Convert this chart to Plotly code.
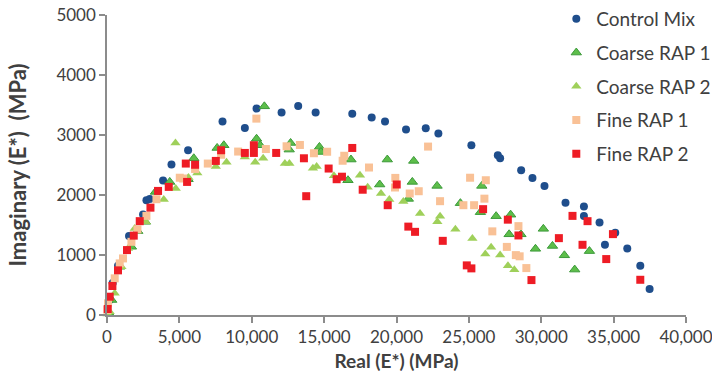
import plotly.graph_objects as go

# Complex modulus (Cole-Cole) data: real vs. imaginary part, MPa
control_real = [187, 394, 761, 1522, 2490, 2725, 2953, 3873, 4454, 5602, 7981, 9523,
                10332, 12061, 13209, 14413, 16944, 18286, 19206, 20658, 22021, 22892,
                25174, 27000, 27159, 28612, 29393, 30223, 31675, 32948, 32948, 34027,
                35113, 34400, 35943, 36842, 37485]
control_imag = [250, 532, 820, 1315, 1676, 1914, 1935, 2241, 2508, 2746, 3223, 3117,
                3440, 3373, 3483, 3373, 3356, 3290, 3223, 3090, 3112, 3024,
                2829, 2662, 2613, 2413, 2285, 2152, 1872, 1809, 1652, 1543,
                1370, 1170, 1110, 820, 433]

coarse1_real = [118, 325, 878, 1688, 2123, 2656, 3347, 4336, 5602, 5996, 7608, 8071,
                10332, 10581, 10872, 12587, 12684, 14676, 14779, 16647, 16854, 18839,
                19365, 20817, 21094, 21191, 22802, 24414, 25797, 25893, 26882, 27885,
                27781, 28597, 30146, 29600, 30776, 31599, 32311, 33328]
coarse1_imag = [33, 250, 804, 1137, 1398, 1553, 2052, 2218, 2263, 2612, 2784, 2829,
                2937, 2829, 3478, 2757, 2867, 2801, 2717, 2246, 2591, 2175,
                2591, 1935, 2218, 2568, 2152, 1864, 1714, 2152, 1647, 1672,
                1345, 1345, 1436, 1103, 1151, 995, 757, 1065]

coarse2_real = [48, 187, 533, 996, 1452, 1916, 2677, 3921, 4751, 4731, 5630, 6238,
                7518, 8258, 9523, 10236, 10789, 12290, 12601, 14226, 14482, 15679,
                17477, 18009, 18929, 19503, 20472, 21626, 22822, 23009, 24068, 25243,
                26136, 26537, 27159, 27698, 28141]
coarse2_imag = [17, 55, 361, 804, 1110, 1443, 1553, 1927, 2108, 2867, 2291, 2366,
                2474, 2546, 2634, 2546, 2612, 2524, 2524, 2446, 2474, 2321,
                2330, 2130, 2025, 1925, 1892, 1692, 1553, 1647, 1431, 1276,
                1015, 1128, 998, 822, 754]

fine1_real = [30, 69, 533, 878, 1107, 1688, 2102, 2725, 3417, 5028, 5256, 6086,
              6964, 7884, 9060, 10319, 10976, 12407, 13327, 14295, 15208, 16280,
              16391, 18099, 19918, 19897, 20914, 21536, 22180, 23009, 24621, 25084,
              25361, 26170, 26073, 26620, 27623, 28245, 28508, 28425, 28971]
fine1_imag = [83, 195, 611, 860, 943, 1220, 1426, 1652, 1930, 2288, 2275, 2434,
              2524, 2671, 2724, 3273, 2766, 2812, 2834, 2696, 2721, 2571,
              2654, 2458, 2285, 2125, 2025, 2063, 2807, 1897, 1830, 2288,
              1830, 2246, 1939, 1394, 1135, 998, 978, 1481, 782]

fine2_real = [50, 187, 373, 761, 1383, 1847, 2262, 3002, 3527, 4267, 5533, 5443,
              6086, 7518, 7884, 9523, 10146, 10146, 11688, 13604, 13763, 15312,
              15865, 16232, 16944, 17664, 19393, 20015, 20817, 21281, 23196, 24856,
              25174, 25983, 27691, 28424, 29324, 31218, 32159, 32851, 33197, 34490,
              34953, 36842]
fine2_imag = [100, 305, 483, 744, 1082, 1323, 1564, 1789, 2068, 2135, 2218, 2524,
              2504, 2568, 2746, 2701, 2829, 2701, 2701, 2612, 1980, 2441,
              2263, 2305, 2784, 2088, 1830, 2175, 1473, 1386, 1236, 827,
              777, 1764, 1589, 1326, 582, 1281, 1652, 1170, 1564, 932,
              1348, 587]

x_ticks = [0, 5000, 10000, 15000, 20000, 25000, 30000, 35000, 40000]
x_tick_text = ["0", "5,000", "10,000", "15,000", "20,000", "25,000", "30,000", "35,000", "40,000"]
y_ticks = [0, 1000, 2000, 3000, 4000, 5000]

series = [
    ("Control Mix", control_real, control_imag,
     dict(symbol="circle", size=8, color="#1F4E8C", line=dict(width=0))),
    ("Coarse RAP 1", coarse1_real, coarse1_imag,
     dict(symbol="triangle-up", size=9, color="#5DBE4A", line=dict(width=1, color="#3C9A3A"))),
    ("Coarse RAP 2", coarse2_real, coarse2_imag,
     dict(symbol="triangle-up", size=9, color="#9FD05A", line=dict(width=0))),
    ("Fine RAP 1", fine1_real, fine1_imag,
     dict(symbol="square", size=8, color="#F9C196", line=dict(width=0))),
    ("Fine RAP 2", fine2_real, fine2_imag,
     dict(symbol="square", size=8, color="#EE1C25", line=dict(width=0))),
]

fig = go.Figure()
for name, xs, ys, marker in series:
    fig.add_trace(go.Scatter(
        x=xs, y=ys, mode="markers", name=name, marker=marker,
        legendgroup=name, cliponaxis=False,
    ))

font_family = "Lato, 'Open Sans', sans-serif"
axis_color = "#8C8C8C"
text_color = "#404040"
tick_font = dict(family=font_family, size=17, color=text_color)

fig.update_layout(
    width=712, height=380,
    margin=dict(l=107, r=26, t=15, b=65, autoexpand=False),
    paper_bgcolor="white", plot_bgcolor="white",
    font=dict(family=font_family, color=text_color),
    showlegend=True,
    legend=dict(
        x=0.776, y=1.05, xanchor="left", yanchor="top",
        font=dict(family=font_family, size=19, color=text_color),
        bgcolor="rgba(0,0,0,0)",
        traceorder="grouped", tracegroupgap=6,
    ),
    xaxis=dict(
        range=[0, 40000], tickmode="array", tickvals=x_ticks, ticktext=x_tick_text,
        showgrid=False, zeroline=False, showline=True, linecolor=axis_color, linewidth=1.5,
        ticks="outside", ticklen=6, tickcolor=axis_color, tickwidth=1.5,
        tickfont=tick_font, automargin=False, ticklabeloverflow="allow",
        title=dict(text="<b>Real (E*) (MPa)</b>", font=dict(family=font_family, size=19, color=text_color),
                   standoff=9),
    ),
    yaxis=dict(
        range=[0, 5000], tickmode="array", tickvals=y_ticks,
        showgrid=False, zeroline=False, showline=True, linecolor=axis_color, linewidth=1.5,
        ticks="outside", ticklen=6, tickcolor=axis_color, tickwidth=1.5,
        tickfont=tick_font, automargin=False, ticklabeloverflow="allow",
        title=dict(text="<b>Imaginary (E*)  (MPa)</b>", font=dict(family=font_family, size=22, color=text_color),
                   standoff=24),
    ),
    # inner halves of the crossing tick marks
    xaxis2=dict(
        range=[0, 40000], overlaying="x", anchor="y", side="bottom",
        tickmode="array", tickvals=x_ticks, showticklabels=False,
        showgrid=False, zeroline=False, showline=False,
        ticks="inside", ticklen=6, tickcolor=axis_color, tickwidth=1.5,
    ),
    yaxis2=dict(
        range=[0, 5000], overlaying="y", anchor="x", side="left",
        tickmode="array", tickvals=y_ticks, showticklabels=False,
        showgrid=False, zeroline=False, showline=False,
        ticks="inside", ticklen=6, tickcolor=axis_color, tickwidth=1.5,
    ),
)

fig.write_html("out.html")
